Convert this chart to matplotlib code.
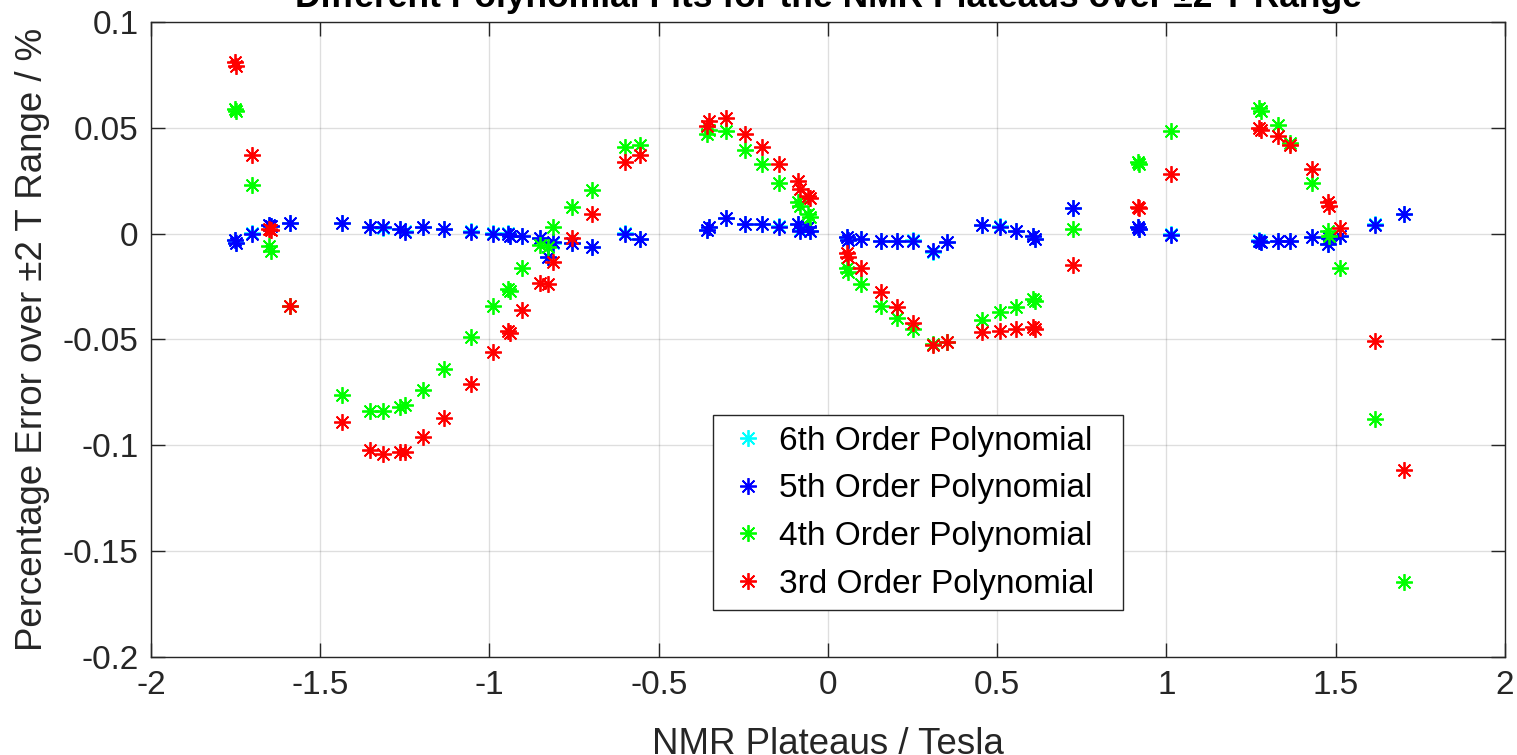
import matplotlib.pyplot as plt

plt.rcParams['font.family'] = ['Liberation Sans', 'DejaVu Sans']
plt.rcParams['axes.unicode_minus'] = False

# NMR plateau field values (Tesla)
plateaus = [-1.752, -1.748, -1.700, -1.650, -1.645, -1.589, -1.437, -1.353, -1.314,
            -1.264, -1.250, -1.197, -1.133, -1.056, -0.989, -0.944, -0.940, -0.905,
            -0.851, -0.827, -0.812, -0.757, -0.698, -0.600, -0.555, -0.358, -0.350,
            -0.301, -0.245, -0.196, -0.144, -0.090, -0.083, -0.058, -0.053, 0.055,
            0.060, 0.099, 0.157, 0.203, 0.252, 0.311, 0.351, 0.454, 0.508, 0.556,
            0.607, 0.612, 0.723, 0.917, 0.920, 1.012, 1.274, 1.278, 1.328, 1.365,
            1.429, 1.478, 1.480, 1.512, 1.616, 1.702]

# percentage errors for each fit
err_6th = [-0.0028, -0.0042, 0.0002, 0.0041, 0.0036, 0.0051, 0.0051, 0.0031, 0.0029,
           0.0022, 0.0012, 0.0031, 0.0021, 0.0013, 0.0001, 0.0001, -0.0009, -0.0011,
           -0.0021, -0.0108, -0.0042, -0.0044, -0.0064, 0.0001, -0.0024, 0.0016, 0.0031,
           0.0073, 0.0045, 0.0045, 0.0034, 0.0045, 0.0015, 0.0031, 0.0013, -0.0018,
           -0.0029, -0.0026, -0.0035, -0.0037, -0.0032, -0.0085, -0.0040, 0.0042, 0.0034,
           0.0013, -0.0011, -0.0024, 0.0122, 0.0031, 0.0021, -0.0004, -0.0032, -0.0041,
           -0.0035, -0.0034, -0.0016, -0.0048, -0.0021, -0.0009, 0.0044, 0.0092]
err_5th = [-0.0030, -0.0045, 0.0000, 0.0040, 0.0035, 0.0050, 0.0050, 0.0030, 0.0030,
           0.0020, 0.0010, 0.0030, 0.0020, 0.0010, 0.0000, 0.0000, -0.0010, -0.0010,
           -0.0020, -0.0110, -0.0040, -0.0045, -0.0065, 0.0000, -0.0025, 0.0015, 0.0030,
           0.0074, 0.0046, 0.0046, 0.0033, 0.0046, 0.0014, 0.0030, 0.0014, -0.0017,
           -0.0030, -0.0025, -0.0036, -0.0036, -0.0033, -0.0084, -0.0041, 0.0043, 0.0033,
           0.0014, -0.0010, -0.0025, 0.0120, 0.0030, 0.0020, -0.0005, -0.0033, -0.0040,
           -0.0036, -0.0033, -0.0017, -0.0049, -0.0020, -0.0010, 0.0043, 0.0093]
err_4th = [0.0590, 0.0580, 0.0230, -0.0060, -0.0080, -0.0340, -0.0760, -0.0840, -0.0840,
           -0.0820, -0.0810, -0.0740, -0.0640, -0.0490, -0.0340, -0.0260, -0.0270, -0.0160,
           -0.0055, -0.0065, 0.0030, 0.0125, 0.0205, 0.0410, 0.0420, 0.0470, 0.0490,
           0.0487, 0.0395, 0.0330, 0.0240, 0.0148, 0.0132, 0.0093, 0.0077, -0.0160,
           -0.0180, -0.0240, -0.0340, -0.0400, -0.0450, -0.0520, -0.0510, -0.0410, -0.0370,
           -0.0345, -0.0310, -0.0320, 0.0020, 0.0340, 0.0330, 0.0487, 0.0594, 0.0580,
           0.0515, 0.0430, 0.0240, 0.0014, -0.0010, -0.0162, -0.0875, -0.1647]
err_3rd = [0.0810, 0.0790, 0.0370, 0.0020, 0.0015, -0.0340, -0.0890, -0.1020, -0.1040,
           -0.1030, -0.1030, -0.0960, -0.0870, -0.0710, -0.0560, -0.0460, -0.0470, -0.0360,
           -0.0235, -0.0240, -0.0135, -0.0020, 0.0095, 0.0340, 0.0370, 0.0510, 0.0530,
           0.0546, 0.0470, 0.0410, 0.0330, 0.0250, 0.0210, 0.0180, 0.0170, -0.0090,
           -0.0110, -0.0160, -0.0277, -0.0345, -0.0420, -0.0524, -0.0513, -0.0466, -0.0460,
           -0.0450, -0.0440, -0.0450, -0.0150, 0.0128, 0.0120, 0.0280, 0.0500, 0.0490,
           0.0463, 0.0420, 0.0306, 0.0148, 0.0132, 0.0025, -0.0505, -0.1116]

series = [
    ('6th Order Polynomial', err_6th, '#00ffff'),
    ('5th Order Polynomial', err_5th, '#0000ff'),
    ('4th Order Polynomial', err_4th, '#00ff00'),
    ('3rd Order Polynomial', err_3rd, '#ff0000'),
]

fig = plt.figure(figsize=(15.17, 7.55), dpi=100)
ax = fig.add_axes([0.0995, 0.1298, 0.8926, 0.8411])

for label, vals, col in series:
    ax.plot(plateaus, vals, linestyle='none', marker=(8, 2, 0), markersize=12,
            markeredgewidth=1.3, color=col, label=label)

ax.set_xlim(-2, 2)
ax.set_ylim(-0.2, 0.1)
ax.set_xticks([-2, -1.5, -1, -0.5, 0, 0.5, 1, 1.5, 2])
ax.set_xticklabels(['-2', '-1.5', '-1', '-0.5', '0', '0.5', '1', '1.5', '2'])
ax.set_yticks([-0.2, -0.15, -0.1, -0.05, 0, 0.05, 0.1])
ax.set_yticklabels(['-0.2', '-0.15', '-0.1', '-0.05', '0', '0.05', '0.1'])

ax.grid(True, color='#262626', alpha=0.15, linewidth=1)
ax.tick_params(direction='in', length=10, width=1, colors='#262626',
               labelsize=24, top=True, right=True, pad=9)
for s in ax.spines.values():
    s.set_color('#262626')
    s.set_linewidth(1)

ax.set_xlabel('NMR Plateaus / Tesla', fontsize=26.4, color='#262626', labelpad=19)
ax.set_ylabel('Percentage Error over \u00b12 T Range / %', fontsize=26.4, color='#262626', labelpad=9)
ax.set_title('Different Polynomial Fits for the NMR Plateaus over \u00b12 T Range',
             fontsize=25.5, fontweight='bold', pad=11)

leg = ax.legend(loc='upper left', bbox_to_anchor=(0.415, 0.074, 0.303, 0.307),
                mode='expand', borderaxespad=0, fontsize=24,
                frameon=True, fancybox=False, edgecolor='#262626', framealpha=1,
                handletextpad=0.17, labelspacing=0.5, borderpad=0.32, handlelength=1.48)
leg.get_frame().set_linewidth(1)

fig.savefig('out.png', dpi=100)
